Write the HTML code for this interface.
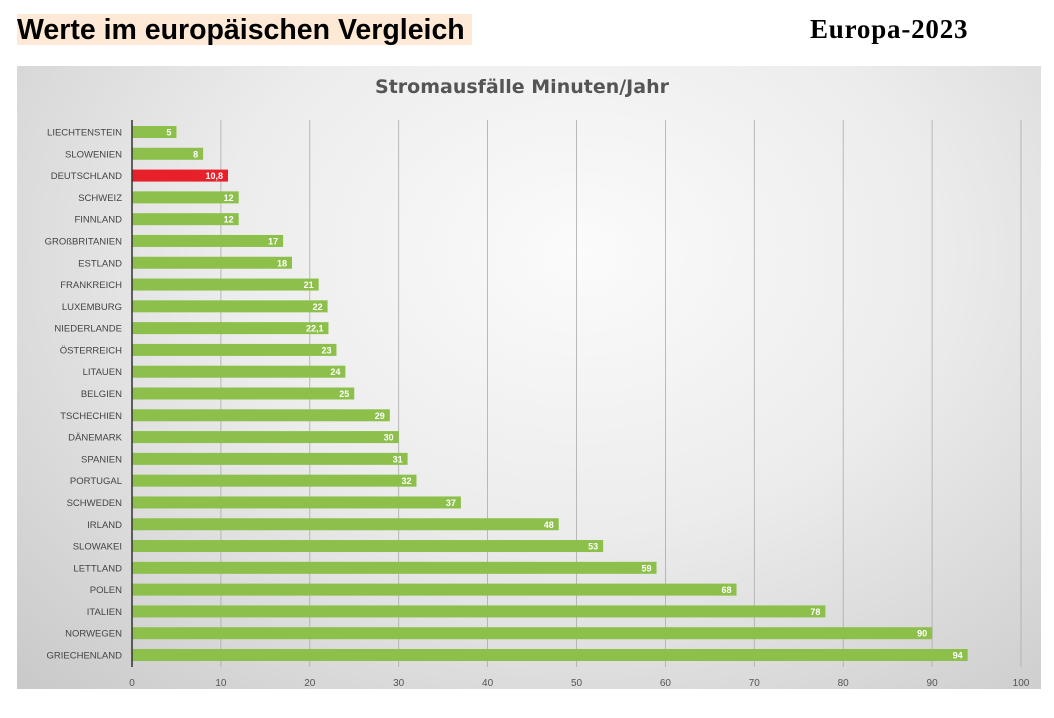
<!DOCTYPE html>
<html><head><meta charset="utf-8"><style>
body{margin:0;width:1054px;height:718px;background:#fff;position:relative;overflow:hidden;font-family:"Liberation Sans",sans-serif}
#h1{position:absolute;left:17px;top:14px;height:31px;width:455px;background:#fde9d6;font:bold 28.5px "Liberation Sans",sans-serif;line-height:32px;color:#000;white-space:nowrap}
#h2{position:absolute;left:810px;top:13px;font:bold 27px "Liberation Serif",serif;line-height:32px;letter-spacing:0.8px}
#panel{position:absolute;left:17px;top:66px;width:1024px;height:623px;background:radial-gradient(ellipse at 55% 30%,#fbfbfb 0%,#ececec 45%,#c9c9c9 100%)}
</style></head><body>
<div id="h1">Werte im europäischen Vergleich</div>
<div id="h2">Europa-2023</div>
<div id="panel">
<svg id="svg" width="1024" height="623"></svg>
</div>
<script>
const countries=["LIECHTENSTEIN","SLOWENIEN","DEUTSCHLAND","SCHWEIZ","FINNLAND","GROßBRITANIEN","ESTLAND","FRANKREICH","LUXEMBURG","NIEDERLANDE","ÖSTERREICH","LITAUEN","BELGIEN","TSCHECHIEN","DÄNEMARK","SPANIEN","PORTUGAL","SCHWEDEN","IRLAND","SLOWAKEI","LETTLAND","POLEN","ITALIEN","NORWEGEN","GRIECHENLAND"];
const values=[5,8,10.8,12,12,17,18,21,22,22.1,23,24,25,29,30,31,32,37,48,53,59,68,78,90,94];
const labels=["5","8","10,8","12","12","17","18","21","22","22,1","23","24","25","29","30","31","32","37","48","53","59","68","78","90","94"];
const ticks=[0,10,20,30,40,50,60,70,80,90,100];
const highlight="DEUTSCHLAND";
const svg=document.getElementById('svg');const NS="http://www.w3.org/2000/svg";
const x0=115,x1=1004,y0=66,y1=589;
const xs=v=>x0+(v-ticks[0])/(ticks[ticks.length-1]-ticks[0])*(x1-x0);
const ys=i=>y0+i*(y1-y0)/(countries.length-1);
function mk(t,a,txt){const e=document.createElementNS(NS,t);for(const k in a)e.setAttribute(k,a[k]);if(txt!=null)e.textContent=txt;svg.appendChild(e);return e;}
let t=mk('text',{x:505,y:27,'text-anchor':'middle','font-size':19,'font-weight':'bold',fill:'#555','font-family':'DejaVu Sans, sans-serif'},'Stromausfälle Minuten/Jahr');


ticks.forEach(v=>{
 if(v>0){let g=mk('line',{x1:xs(v),x2:xs(v),y1:y0-12,y2:y1+12,stroke:'#aaa','stroke-width':0.8});
 
 }
 let l=mk('text',{x:xs(v),y:y1+31,'text-anchor':'middle','font-size':10,fill:'#555'},String(v));
 
 
});
countries.forEach((c,i)=>{
 const y=ys(i);
 let r=mk('rect',{x:x0,y:y-6,width:xs(values[i])-x0,height:12,fill:c===highlight?'#e8202a':'#8cc04b'});
 
 
 let v=mk('text',{x:xs(values[i])-5,y:y+3.5,'text-anchor':'end','font-size':9,'font-weight':'bold',fill:'#fff'},labels[i]);
 
 
 let n=mk('text',{x:x0-10,y:y+3.5,'text-anchor':'end','font-size':9.5,fill:'#444'},c);
 
 
});
let ax=mk('line',{x1:x0,x2:x0,y1:y0-12,y2:y1+12,stroke:'#333','stroke-width':1.5});


</script>
</body></html>
